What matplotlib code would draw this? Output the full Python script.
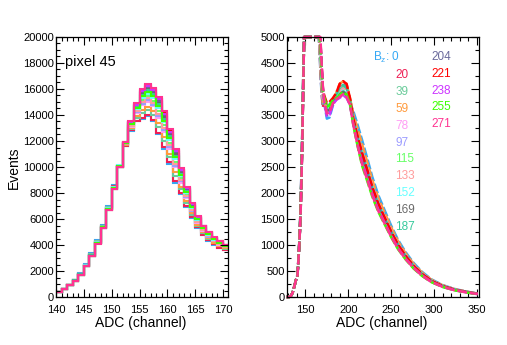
import numpy as np
import matplotlib
matplotlib.use("Agg")
import matplotlib.pyplot as plt
from matplotlib.ticker import MultipleLocator

plt.rcParams['font.family'] = ['Liberation Sans', 'DejaVu Sans']
plt.rcParams['mathtext.fontset'] = 'custom'
plt.rcParams['mathtext.rm'] = 'Liberation Sans'
plt.rcParams['mathtext.it'] = 'Liberation Sans:italic'

# ---------------- data ----------------
B_VALUES = [0, 20, 39, 59, 78, 97, 115, 133, 152, 169, 187, 204, 221, 238, 255, 271]
COLORS = ['#35a8f5', '#ee1f55', '#6acb9a', '#ff9a3c', '#ff9cf5', '#9c9cff', '#66ff66', '#ff9c9c',
          '#66ffff', '#6a6a6a', '#36c99c', '#6a6a9c', '#ff0000', '#cc33ff', '#3cff00', '#ff3390']

# left panel: counts per 1-channel bin, ADC 140..170
BIN_EDGES = list(range(140, 172))
PEAK_B0 = [420, 640, 930, 1300, 1850, 2550, 3350, 4350, 5550, 7000, 8600, 10100, 11600, 12800, 13500, 13700, 13900, 13500, 12500, 11400, 10200, 8800, 7900, 6900, 6100, 5300, 4750, 4300, 4000, 3800, 3650]
PEAK_B20 = [400, 650, 920, 1280, 1800, 2500, 3300, 4300, 5500, 6950, 8550, 10050, 11650, 12850, 13550, 13800, 14000, 13600, 12650, 11550, 10350, 8950, 8000, 7000, 6150, 5350, 4800, 4350, 4050, 3800, 3650]
PEAK_B39 = [410, 630, 940, 1290, 1780, 2480, 3280, 4280, 5450, 6900, 8500, 10050, 11700, 12950, 13780, 14160, 14400, 14020, 13080, 11980, 10740, 9320, 8300, 7220, 6320, 5480, 4900, 4440, 4120, 3900, 3720]
PEAK_B59 = [400, 620, 920, 1300, 1760, 2450, 3250, 4250, 5420, 6880, 8480, 10000, 11690, 13010, 13920, 14390, 14650, 14280, 13370, 12270, 11010, 9580, 8500, 7380, 6430, 5570, 4975, 4510, 4180, 3950, 3755]
PEAK_B78 = [395, 615, 910, 1270, 1750, 2430, 3230, 4220, 5420, 6850, 8450, 10050, 11735, 13115, 14130, 14735, 15025, 14670, 13805, 12705, 11415, 9970, 8800, 7620, 6595, 5705, 5090, 4615, 4270, 4025, 3810]
PEAK_B97 = [390, 610, 910, 1270, 1740, 2420, 3220, 4200, 5400, 6830, 8420, 10000, 11750, 13150, 14200, 14850, 15150, 14800, 13950, 12850, 11550, 10100, 8900, 7700, 6650, 5750, 5125, 4650, 4300, 4050, 3825]
PEAK_B115 = [400, 600, 900, 1260, 1730, 2400, 3200, 4180, 5380, 6800, 8400, 10050, 11786, 13234, 14368, 15126, 15450, 15112, 14298, 13198, 11874, 10412, 9140, 7892, 6782, 5858, 5215, 4734, 4372, 4110, 3867]
PEAK_B133 = [385, 610, 905, 1260, 1740, 2410, 3210, 4200, 5390, 6820, 8430, 10000, 11765, 13185, 14270, 14965, 15275, 14930, 14095, 12995, 11685, 10230, 9000, 7780, 6705, 5795, 5160, 4685, 4330, 4075, 3840]
PEAK_B152 = [400, 620, 920, 1280, 1760, 2430, 3230, 4220, 5420, 6870, 8500, 10150, 11810, 13290, 14480, 15310, 15650, 15320, 14530, 13430, 12090, 10620, 9300, 8020, 6870, 5930, 5275, 4790, 4420, 4150, 3895]
PEAK_B169 = [390, 605, 905, 1260, 1720, 2380, 3180, 4150, 5340, 6750, 8350, 10000, 11855, 13395, 14690, 15655, 16025, 15710, 14965, 13865, 12495, 11010, 9600, 8260, 7035, 6065, 5390, 4895, 4510, 4225, 3950]
PEAK_B187 = [395, 615, 915, 1270, 1740, 2400, 3200, 4180, 5370, 6780, 8380, 10050, 11840, 13360, 14620, 15540, 15900, 15580, 14820, 13720, 12360, 10880, 9500, 8180, 6980, 6020, 5350, 4860, 4480, 4200, 3930]
PEAK_B204 = [385, 600, 900, 1250, 1710, 2370, 3170, 4130, 5320, 6730, 8330, 10000, 11870, 13430, 14760, 15770, 16150, 15840, 15110, 14010, 12630, 11140, 9700, 8340, 7090, 6110, 5425, 4930, 4540, 4250, 3965]
PEAK_B221 = [380, 600, 900, 1250, 1700, 2350, 3150, 4120, 5300, 6720, 8320, 10000, 11885, 13465, 14830, 15885, 16275, 15970, 15255, 14155, 12765, 11270, 9800, 8420, 7145, 6155, 5460, 4965, 4570, 4275, 3980]
PEAK_B238 = [390, 610, 905, 1260, 1720, 2370, 3170, 4140, 5320, 6740, 8340, 10000, 11880, 13450, 14800, 15840, 16225, 15920, 15200, 14100, 12710, 11220, 9760, 8390, 7125, 6140, 5450, 4950, 4560, 4265, 3975]
PEAK_B255 = [395, 605, 910, 1265, 1730, 2390, 3190, 4160, 5350, 6760, 8360, 10050, 11825, 13325, 14550, 15425, 15775, 15450, 14675, 13575, 12225, 10750, 9400, 8100, 6925, 5975, 5310, 4825, 4450, 4175, 3910]
PEAK_B271 = [380, 600, 900, 1250, 1700, 2350, 3150, 4100, 5300, 6700, 8300, 10000, 11900, 13500, 14900, 16000, 16400, 16100, 15400, 14300, 12900, 11400, 9900, 8500, 7200, 6200, 5500, 5000, 4600, 4300, 4000]

# right panel: onset below ADC 140 and tail above ADC 171
ONSET_ADC = [128, 131, 133, 135, 137, 139]
ONSET_COUNTS = [0, 0, 20, 80, 200, 330]
TAIL_ADC = [172, 175, 178, 182, 186, 190, 194, 198, 202, 206, 211, 216, 222, 228, 235, 242, 250, 258, 267, 276, 286, 297, 310, 324, 338, 351]
TAIL_B0 = [3720, 3430, 3450, 3680, 3825, 3900, 3950, 3900, 3725, 3570, 3305, 3025, 2675, 2310, 1960, 1685, 1375, 1100, 860, 660, 485, 340, 230, 155, 105, 66]
TAIL_B20 = [3825, 3630, 3650, 3775, 3900, 4050, 4100, 4050, 3800, 3470, 3170, 2890, 2550, 2205, 1870, 1605, 1310, 1050, 820, 630, 460, 325, 220, 147, 100, 63]
TAIL_B39 = [3800, 3580, 3600, 3750, 3875, 4000, 4050, 4000, 3775, 3450, 3150, 2860, 2525, 2185, 1850, 1590, 1300, 1040, 810, 625, 460, 320, 220, 145, 99, 62]
TAIL_B59 = [3775, 3530, 3550, 3725, 3925, 4100, 4150, 4100, 3825, 3500, 3230, 2945, 2600, 2245, 1905, 1635, 1340, 1070, 835, 640, 470, 330, 225, 150, 102, 64]
TAIL_B78 = [3800, 3580, 3600, 3750, 3850, 3950, 4000, 3950, 3750, 3420, 3090, 2805, 2480, 2140, 1815, 1560, 1275, 1020, 795, 610, 450, 315, 215, 143, 97, 61]
TAIL_B97 = [3775, 3530, 3550, 3725, 3825, 3900, 3950, 3900, 3725, 3400, 3060, 2750, 2430, 2100, 1780, 1530, 1250, 1000, 780, 600, 440, 310, 210, 140, 95, 60]
TAIL_B115 = [3810, 3600, 3620, 3760, 3810, 3870, 3920, 3870, 3710, 3370, 3010, 2695, 2380, 2060, 1745, 1500, 1225, 980, 765, 590, 430, 305, 205, 137, 93, 59]
TAIL_B133 = [3790, 3590, 3610, 3740, 3860, 3940, 4010, 3960, 3740, 3410, 3050, 2760, 2420, 2110, 1770, 1540, 1245, 1005, 775, 605, 438, 312, 208, 141, 94, 61]
TAIL_B152 = [3825, 3630, 3650, 3775, 3835, 3920, 3970, 3920, 3735, 3410, 3080, 2780, 2455, 2120, 1800, 1545, 1260, 1010, 790, 605, 445, 313, 212, 141, 96, 61]
TAIL_B169 = [3800, 3580, 3600, 3750, 3825, 3900, 3950, 3900, 3725, 3390, 3040, 2720, 2405, 2080, 1760, 1515, 1240, 990, 770, 595, 435, 307, 208, 139, 94, 59]
TAIL_B187 = [3850, 3680, 3700, 3800, 3890, 4030, 4080, 4030, 3790, 3400, 3060, 2750, 2440, 2100, 1780, 1520, 1250, 1000, 785, 600, 440, 310, 210, 140, 95, 60]
TAIL_B204 = [3760, 3500, 3520, 3710, 3800, 3850, 3900, 3850, 3700, 3370, 3010, 2695, 2380, 2060, 1750, 1500, 1225, 975, 765, 590, 430, 305, 205, 137, 93, 59]
TAIL_B221 = [3875, 3730, 3750, 3825, 3925, 4100, 4150, 4100, 3825, 3420, 3080, 2780, 2455, 2120, 1800, 1545, 1260, 1010, 790, 605, 445, 313, 212, 141, 96, 61]
TAIL_B238 = [3750, 3480, 3500, 3700, 3790, 3830, 3880, 3830, 3690, 3300, 2920, 2585, 2285, 1975, 1675, 1440, 1175, 940, 735, 565, 415, 290, 197, 132, 89, 56]
TAIL_B255 = [3840, 3660, 3680, 3790, 3820, 3890, 3940, 3890, 3720, 3290, 2890, 2530, 2235, 1930, 1640, 1410, 1150, 920, 720, 550, 405, 285, 193, 129, 87, 55]
TAIL_B271 = [3775, 3530, 3550, 3725, 3800, 3850, 3900, 3850, 3700, 3300, 2900, 2560, 2260, 1955, 1655, 1425, 1160, 930, 725, 560, 410, 288, 195, 130, 88, 56]

PEAKS = [PEAK_B0, PEAK_B20, PEAK_B39, PEAK_B59, PEAK_B78, PEAK_B97, PEAK_B115, PEAK_B133,
         PEAK_B152, PEAK_B169, PEAK_B187, PEAK_B204, PEAK_B221, PEAK_B238, PEAK_B255, PEAK_B271]
TAILS = [TAIL_B0, TAIL_B20, TAIL_B39, TAIL_B59, TAIL_B78, TAIL_B97, TAIL_B115, TAIL_B133,
         TAIL_B152, TAIL_B169, TAIL_B187, TAIL_B204, TAIL_B221, TAIL_B238, TAIL_B255, TAIL_B271]

# ---------------- figure ----------------
W, H = 507, 345
fig = plt.figure(figsize=(W / 100, H / 100), dpi=100)

def px_axes(x0, x1, ytop, ybot):
    return fig.add_axes([x0 / W, 1 - ybot / H, (x1 - x0) / W, (ybot - ytop) / H])

axL = px_axes(56, 227.5, 37, 297)
axR = px_axes(287, 479, 37, 297)

edges = np.array(BIN_EDGES, dtype=float)
centers = (edges[:-1] + edges[1:]) / 2

for vals, col in zip(PEAKS, COLORS):
    axL.stairs(vals, edges, baseline=None, color=col, lw=1.5)

for vals, tail, col in zip(PEAKS, TAILS, COLORS):
    x = np.concatenate([ONSET_ADC, centers, TAIL_ADC])
    y = np.concatenate([ONSET_COUNTS, vals, tail])
    axR.plot(x, np.minimum(y, 5000), color=col, lw=1.8, dashes=(4, 1),
             clip_on=False, solid_joinstyle='miter')

for ax in (axL, axR):
    ax.tick_params(which='both', direction='in', top=True, right=True, labelsize=8,
                   width=0.8, colors='black')
    ax.tick_params(which='major', length=5.5)
    ax.tick_params(which='minor', length=3)
    ax.tick_params(axis='x', which='major', pad=5.5)
    ax.tick_params(axis='y', which='major', pad=1.5)
    for s in ax.spines.values():
        s.set_linewidth(0.9)

axL.set_xlim(140, 170.8)
axL.set_ylim(0, 20000)
axL.xaxis.set_major_locator(MultipleLocator(5))
axL.xaxis.set_minor_locator(MultipleLocator(1))
axL.yaxis.set_major_locator(MultipleLocator(2000))
axL.yaxis.set_minor_locator(MultipleLocator(500))

axR.set_xlim(128.5, 352.5)
axR.set_ylim(0, 5000)
axR.xaxis.set_major_locator(MultipleLocator(50))
axR.xaxis.set_minor_locator(MultipleLocator(10))
axR.yaxis.set_major_locator(MultipleLocator(500))
axR.yaxis.set_minor_locator(MultipleLocator(250))

axL.text(0.052, 0.904, 'pixel 45', transform=axL.transAxes, fontsize=10.5,
         ha='left', va='center')

fig.text(140.5 / W, 1 - 323 / H, 'ADC (channel)', fontsize=10, ha='center', va='center')
fig.text(382 / W, 1 - 323 / H, 'ADC (channel)', fontsize=10, ha='center', va='center')
fig.text(14 / W, 1 - 168 / H, 'Events', fontsize=10, ha='center', va='center', rotation=90)

# legend-like value list
def ax_frac(xpx, ypx):
    return (xpx - 287) / 192, (297 - ypx) / 260

fx, fy = ax_frac(373, 57)
axR.text(fx, fy, r'B$_{\rm z}$: 0', transform=axR.transAxes, color=COLORS[0],
         fontsize=8.5, ha='left', va='center')
for i in range(1, 11):
    fx, fy = ax_frac(395.5, 75.5 + 16.8 * (i - 1))
    axR.text(fx, fy, str(B_VALUES[i]), transform=axR.transAxes, color=COLORS[i],
             fontsize=8.5, ha='left', va='center')
for j, i in enumerate(range(11, 16)):
    fx, fy = ax_frac(431.7, 57 + 16.8 * j)
    axR.text(fx, fy, str(B_VALUES[i]), transform=axR.transAxes, color=COLORS[i],
             fontsize=8.5, ha='left', va='center')

fig.savefig('out.png', dpi=100)
